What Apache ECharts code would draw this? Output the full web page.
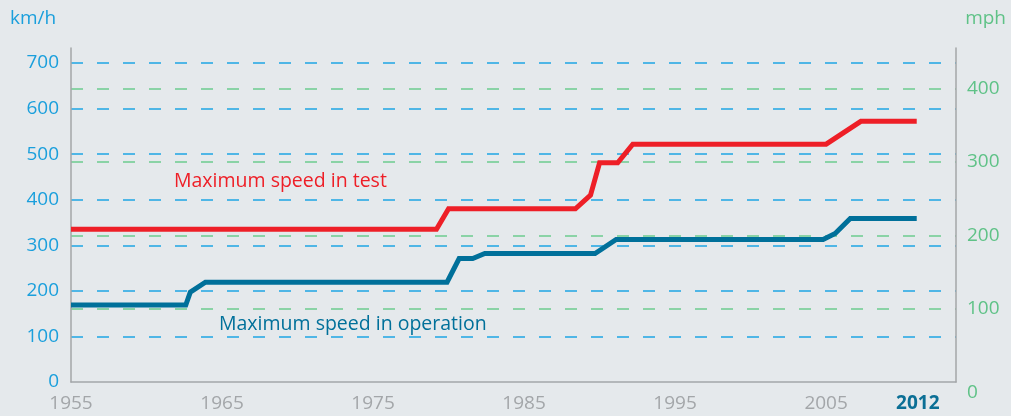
<!DOCTYPE html>
<html>
<head>
<meta charset="utf-8">
<script src="https://cdn.jsdelivr.net/npm/echarts@6/dist/echarts.min.js"></script>
<style>
html,body{margin:0;padding:0;background:#e5e9ec;}
#chart{width:1011px;height:416px;}
</style>
</head>
<body>
<div id="chart"></div>
<script>
// ---- data ----
const testYears = [1955, 1979.2, 1980.0, 1988.4, 1989.4, 1990.0, 1991.2, 1992.2, 2005.0, 2007.3, 2011.0];
const testKmh   = [335, 335, 380, 380, 410, 481, 481, 522, 522, 572, 572];
const operYears = [1955, 1962.6, 1962.9, 1963.9, 1979.9, 1980.7, 1981.6, 1982.4, 1989.7, 1991.1, 2004.8, 2005.6, 2006.6, 2011.0];
const operKmh   = [169, 169, 197, 219, 219, 271, 271, 282, 282, 313, 313, 326, 359, 359];
const xTickValues = [1955, 1965, 1975, 1985, 1995, 2005, 2012];
const xTickLabels = ['1955', '1965', '1975', '1985', '1995', '2005', '2012'];
const seriesNames = ['Maximum speed in test', 'Maximum speed in operation'];
const KMH_PER_MPH = 1.609344;

const FONT = '"Open Sans", "Noto Sans", sans-serif';
const kmhMax = 733;
const xMin = 1955, xMax = 2013.6;

const chart = echarts.init(document.getElementById('chart'));
chart.setOption({
  backgroundColor: '#e5e9ec',
  animation: false,
  grid: { left: 71, right: 55, top: 48, bottom: 34, containLabel: false },
  xAxis: {
    type: 'value', min: xMin, max: xMax,
    axisLine: { show: true, lineStyle: { color: '#a3a6a9', width: 1.5 } },
    axisTick: { show: false },
    splitLine: { show: false },
    axisLabel: {
      customValues: xTickValues,
      margin: 12,
      color: '#a3a6a9',
      fontFamily: FONT, fontSize: 19,
      formatter: function (v) {
        const i = xTickValues.indexOf(v);
        const t = i >= 0 ? xTickLabels[i] : '';
        return i === xTickValues.length - 1 ? '{b|' + t + '}' : t;
      },
      rich: { b: { fontWeight: 'bold', color: '#0b6f95', fontFamily: FONT, fontSize: 19, padding: [0, 28, 0, 0] } }
    }
  },
  yAxis: [
    {
      type: 'value', min: 0, max: kmhMax, interval: 100, position: 'left',
      axisLine: { show: true, lineStyle: { color: '#a3a6a9', width: 1.5 } },
      axisTick: { show: false },
      axisLabel: { showMaxLabel: false, margin: 12, color: '#1a9fdc', fontFamily: FONT, fontSize: 19 },
      splitLine: { show: true, showMinLine: false, showMaxLine: false,
        lineStyle: { color: '#1ea5e4', width: 1.5, type: [12, 14] } }
    },
    {
      type: 'value', min: 0, max: kmhMax / KMH_PER_MPH, interval: 100, position: 'right',
      axisLine: { show: true, lineStyle: { color: '#a3a6a9', width: 1.5 } },
      axisTick: { show: false },
      axisLabel: {
        showMaxLabel: false, margin: 11, color: '#5fc287', fontFamily: FONT, fontSize: 19,
        formatter: function (v) { return v === 0 ? '{z|0}' : String(v); },
        rich: { z: { padding: [21, 0, 0, 0], color: '#5fc287', fontFamily: FONT, fontSize: 19 } }
      },
      splitLine: { show: true, showMinLine: false, showMaxLine: false,
        lineStyle: { color: '#6ccb8f', width: 1.5, type: [12, 14] } }
    }
  ],
  series: [
    {
      name: seriesNames[0], type: 'line', yAxisIndex: 0, showSymbol: false, z: 5,
      lineStyle: { color: '#ee1f27', width: 5, join: 'miter' },
      data: testYears.map((y, i) => [y, testKmh[i]])
    },
    {
      name: seriesNames[1], type: 'line', yAxisIndex: 0, showSymbol: false, z: 5,
      lineStyle: { color: '#00709a', width: 5, join: 'miter' },
      data: operYears.map((y, i) => [y, operKmh[i]])
    }
  ],
  graphic: [
    { type: 'text', left: 10, top: 9, style: { text: 'km/h', fill: '#1a9fdc', font: '19px ' + FONT } },
    { type: 'text', right: 5, top: 9, style: { text: 'mph', fill: '#5fc287', font: '19px ' + FONT } },
    { type: 'text', x: 174, y: 181, style: { text: seriesNames[0], fill: '#ee1f27', font: '19.5px ' + FONT, verticalAlign: 'middle' } },
    { type: 'text', x: 219, y: 324, style: { text: seriesNames[1], fill: '#00709a', font: '19.5px ' + FONT, verticalAlign: 'middle' } }
  ]
});
</script>
</body>
</html>
